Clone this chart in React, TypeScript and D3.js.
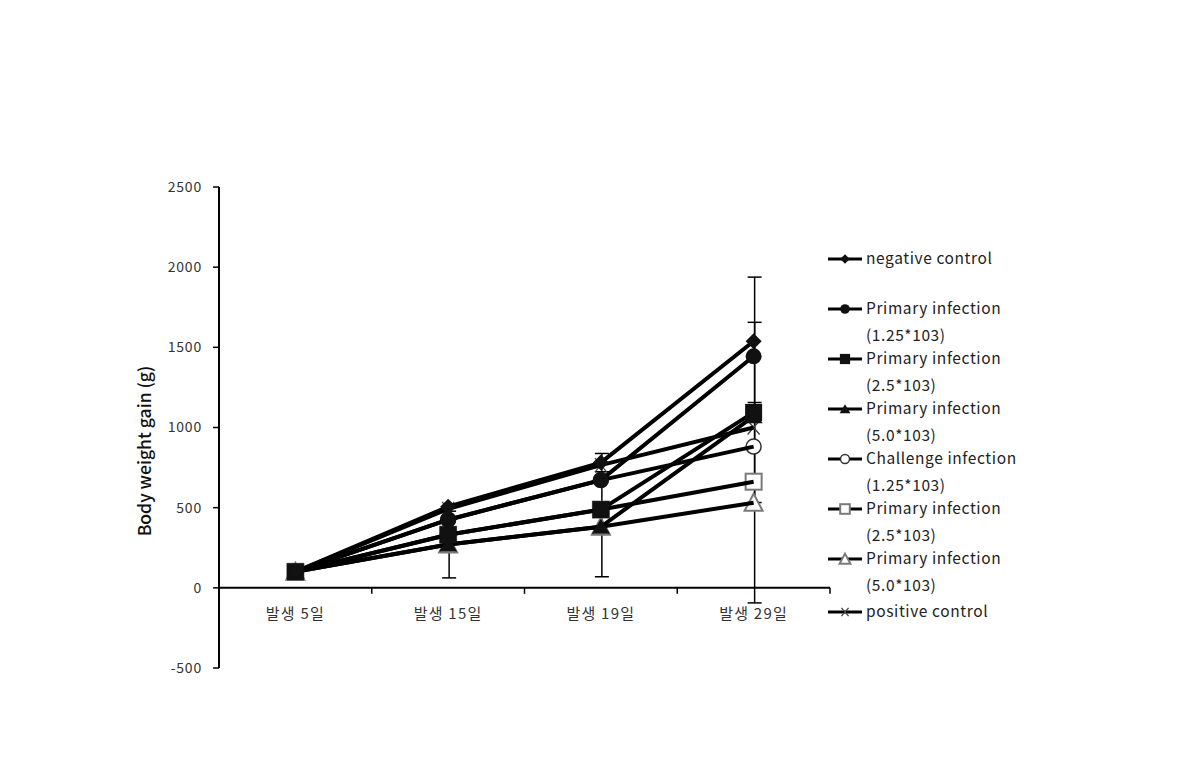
import React from "react";
import * as d3 from "d3";

const categories = ["발생 5일", "발생 15일", "발생 19일", "발생 29일"];
const yTicks = [-500, 0, 500, 1000, 1500, 2000, 2500];

const negControl = [100, 506, 781, 1538];
const negControlErr = [0, 0, 57, 400];
const primary125 = [100, 425, 672, 1444];
const primary125Err = [0, 0, 0, 0];
const primary25 = [100, 331, 488, 1094];
const primary25Err = [0, 0, 0, 562];
const primary50 = [100, 270, 381, 1070];
const primary50Err = [0, 208, 312, 0];
const challenge125 = [100, 425, 672, 881];
const challenge125Err = [0, 0, 0, 0];
const primary25b = [100, 331, 488, 662];
const primary25bErr = [0, 0, 0, 0];
const primary50b = [100, 270, 381, 531];
const primary50bErr = [0, 0, 0, 625];
const posControl = [100, 492, 765, 1000];
const posControlErr = [0, 0, 0, 0];

const legendLabels = [
  ["negative control"],
  ["Primary infection", "(1.25*103)"],
  ["Primary infection", "(2.5*103)"],
  ["Primary infection", "(5.0*103)"],
  ["Challenge infection", "(1.25*103)"],
  ["Primary infection", "(2.5*103)"],
  ["Primary infection", "(5.0*103)"],
  ["positive control"],
];

type Shape = "diamond" | "circle" | "square" | "triangle" | "ocircle" | "osquare" | "otriangle" | "x";

const series: { values: number[]; err: number[]; shape: Shape; open: boolean }[] = [
  { values: negControl, err: negControlErr, shape: "diamond", open: false },
  { values: primary125, err: primary125Err, shape: "circle", open: false },
  { values: primary25, err: primary25Err, shape: "square", open: false },
  { values: primary50, err: primary50Err, shape: "triangle", open: false },
  { values: challenge125, err: challenge125Err, shape: "ocircle", open: true },
  { values: primary25b, err: primary25bErr, shape: "osquare", open: true },
  { values: primary50b, err: primary50bErr, shape: "otriangle", open: true },
  { values: posControl, err: posControlErr, shape: "x", open: true },
];

function Marker({ shape, x, y, s = 1 }: { shape: Shape; x: number; y: number; s?: number }) {
  const gray = "#7a7a7a";
  switch (shape) {
    case "diamond":
      return <path d={`M${x},${y - 8 * s}L${x + 8 * s},${y}L${x},${y + 8 * s}L${x - 8 * s},${y}Z`} fill="#111" />;
    case "circle":
      return <circle cx={x} cy={y} r={8 * s} fill="#111" />;
    case "square":
      return <rect x={x - 8.5 * s} y={y - 8.5 * s} width={17 * s} height={17 * s} fill="#111" />;
    case "triangle":
      return <path d={`M${x},${y - 8 * s}L${x + 9 * s},${y + 7 * s}L${x - 9 * s},${y + 7 * s}Z`} fill="#111" />;
    case "ocircle":
      return <circle cx={x} cy={y} r={7.5 * s} fill="white" stroke="#333" strokeWidth={1.5} />;
    case "osquare":
      return <rect x={x - 8 * s} y={y - 8 * s} width={16 * s} height={16 * s} fill="white" stroke={gray} strokeWidth={2} />;
    case "otriangle":
      return <path d={`M${x},${y - 9 * s}L${x + 9 * s},${y + 8 * s}L${x - 9 * s},${y + 8 * s}Z`} fill="white" stroke={gray} strokeWidth={2} />;
    case "x":
      return <path d={`M${x - 6 * s},${y - 7 * s}L${x + 6 * s},${y + 7 * s}M${x + 6 * s},${y - 7 * s}L${x - 6 * s},${y + 7 * s}`} stroke="#444" strokeWidth={1.3} fill="none" />;
  }
}

export default function App() {
  const xBand = d3.scaleBand<string>().domain(categories).range([219, 830]);
  const cx = (c: string) => (xBand(c) as number) + xBand.bandwidth() / 2;
  const y = d3.scaleLinear().domain([-500, 2500]).range([668, 187]);
  const line = d3
    .line<number>()
    .x((_, i) => cx(categories[i]))
    .y((d) => y(d));

  const font = "'Noto Sans CJK KR', 'Noto Sans', sans-serif";
  const drawOrder = series.map((_, i) => i).reverse();
  const openIdx = drawOrder.filter((i) => series[i].open);
  const filledIdx = drawOrder.filter((i) => !series[i].open);

  return (
    <svg width={1190} height={772} style={{ position: "absolute", left: 0, top: 0, background: "white" }}>
      <rect x={0} y={0} width={1190} height={772} fill="white" />
      {/* Y axis */}
      <line x1={219} x2={219} y1={y(2500)} y2={y(-500)} stroke="#000" strokeWidth={2} />
      {yTicks.map((t) => (
        <g key={t}>
          <line x1={213} x2={219} y1={y(t)} y2={y(t)} stroke="#000" strokeWidth={1.5} />
          <text x={202} y={y(t)} dy="0.35em" textAnchor="end" fontFamily={font} fontSize={14} letterSpacing={0.8} fill="#333">
            {t}
          </text>
        </g>
      ))}
      <text
        transform={`translate(151,${451}) rotate(-90)`}
        textAnchor="middle"
        fontFamily={font}
        fontSize={17.5}
        fontWeight={500}
        fill="#111"
      >
        Body weight gain (g)
      </text>
      {/* X axis */}
      <line x1={219} x2={830} y1={y(0)} y2={y(0)} stroke="#000" strokeWidth={2} />
      {categories.map((c) => (
        <g key={c}>
          <line
            x1={(xBand(c) as number) + xBand.bandwidth()}
            x2={(xBand(c) as number) + xBand.bandwidth()}
            y1={y(0)}
            y2={y(0) + 6}
            stroke="#000"
            strokeWidth={1.5}
          />
          <text x={cx(c)} y={619} textAnchor="middle" fontFamily={font} fontSize={15} letterSpacing={1.2} fill="#333">
            {c}
          </text>
        </g>
      ))}
      {/* error bars */}
      {series.map((s, si) =>
        s.values.map((v, i) =>
          s.err[i] > 0 ? (
            <g key={`e${si}-${i}`} stroke="#000" strokeWidth={1.5}>
              <line x1={cx(categories[i]) + 1} x2={cx(categories[i]) + 1} y1={y(v - s.err[i])} y2={y(v + s.err[i])} />
              <line x1={cx(categories[i]) - 6} x2={cx(categories[i]) + 8} y1={y(v + s.err[i])} y2={y(v + s.err[i])} />
              <line x1={cx(categories[i]) - 6} x2={cx(categories[i]) + 8} y1={y(v - s.err[i])} y2={y(v - s.err[i])} />
            </g>
          ) : null
        )
      )}
      {/* open markers beneath lines */}
      {openIdx.map((si) =>
        series[si].values.map((v, i) => (
          <Marker key={`om${si}-${i}`} shape={series[si].shape} x={cx(categories[i])} y={y(v)} />
        ))
      )}
      {/* lines */}
      {drawOrder.map((si) => (
        <path key={`l${si}`} d={line(series[si].values) as string} fill="none" stroke="#000" strokeWidth={4} />
      ))}
      {/* filled markers */}
      {filledIdx.map((si) =>
        series[si].values.map((v, i) => (
          <Marker key={`m${si}-${i}`} shape={series[si].shape} x={cx(categories[i])} y={y(v)} />
        ))
      )}
      {/* legend */}
      {legendLabels.map((lab, i) => {
        const ly = i === 7 ? 612 : 259 + 50 * i;
        return (
          <g key={`lg${i}`}>
            <line x1={828} x2={862} y1={ly} y2={ly} stroke="#000" strokeWidth={3} />
            <Marker shape={series[i].shape} x={845} y={ly} s={0.6} />
            {lab.map((t, j) => (
              <text key={j} x={866} y={ly + j * 27} dy="0.35em" fontFamily={font} fontSize={15.5} letterSpacing={0.6} fill="#222">
                {t}
              </text>
            ))}
          </g>
        );
      })}
    </svg>
  );
}
